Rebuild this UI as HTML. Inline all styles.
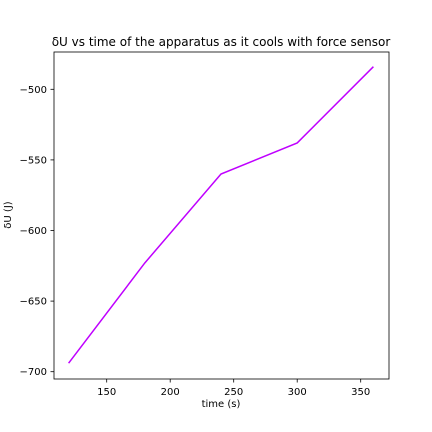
<!DOCTYPE html>
<html><head><meta charset="utf-8">
<style>
body{margin:0;background:#fff;}
svg{display:block;font-family:"DejaVu Sans","Liberation Sans",sans-serif;}
</style></head>
<body>
<svg id="chart" width="432" height="432" viewBox="0 0 432 432">
<rect width="432" height="432" fill="#fff"/>
<text x="221" y="46" font-size="12" text-anchor="middle">δU vs time of the apparatus as it cools with force sensor</text>
<g id="xticks"></g><g id="yticks"></g>
<polyline id="line" fill="none" stroke="#bf00ff" stroke-width="1.5"/>
<rect x="54" y="52" width="335" height="327" fill="none" stroke="#000" stroke-width="0.8"/>
<text x="221" y="407" font-size="10" text-anchor="middle">time (s)</text>
<text x="11" y="215" font-size="10" text-anchor="middle" transform="rotate(-90 11 215)">δU (J)</text>
</svg>
<script>
const times=[120,180,240,300,360];
const energies=[-694,-623,-560,-538,-484];
const xTickVals=[150,200,250,300,350];
const yTickVals=[-500,-550,-600,-650,-700];
const NS="http://www.w3.org/2000/svg";
function xs(v){return 106.7+(v-150)*(63.5/50);}
function ys(v){return 371.7-(v+700)*(70.6/50);}
const xg=document.getElementById('xticks'),yg=document.getElementById('yticks');
xTickVals.forEach(v=>{
 const l=document.createElementNS(NS,'line');
 l.setAttribute('x1',xs(v));l.setAttribute('x2',xs(v));l.setAttribute('y1',379);l.setAttribute('y2',382.5);l.setAttribute('stroke','#000');l.setAttribute('stroke-width','0.8');
 
 
 xg.appendChild(l);
 const t=document.createElementNS(NS,'text');
 t.setAttribute('x',xs(v));t.setAttribute('y',395);t.setAttribute('font-size','10');t.setAttribute('text-anchor','middle');t.textContent=v;
 
 
 xg.appendChild(t);
});
yTickVals.forEach(v=>{
 const l=document.createElementNS(NS,'line');
 l.setAttribute('x1',50.5);l.setAttribute('x2',54);l.setAttribute('y1',ys(v));l.setAttribute('y2',ys(v));l.setAttribute('stroke','#000');l.setAttribute('stroke-width','0.8');
 
 
 yg.appendChild(l);
 const t=document.createElementNS(NS,'text');
 t.setAttribute('x',47);t.setAttribute('y',ys(v)+3.5);t.setAttribute('font-size','10');t.setAttribute('text-anchor','end');t.textContent='\u2212'+Math.abs(v);
 
 
 yg.appendChild(t);
});
document.getElementById('line').setAttribute('points',times.map((t,i)=>xs(t)+','+ys(energies[i])).join(' '));
</script>
</body></html>
